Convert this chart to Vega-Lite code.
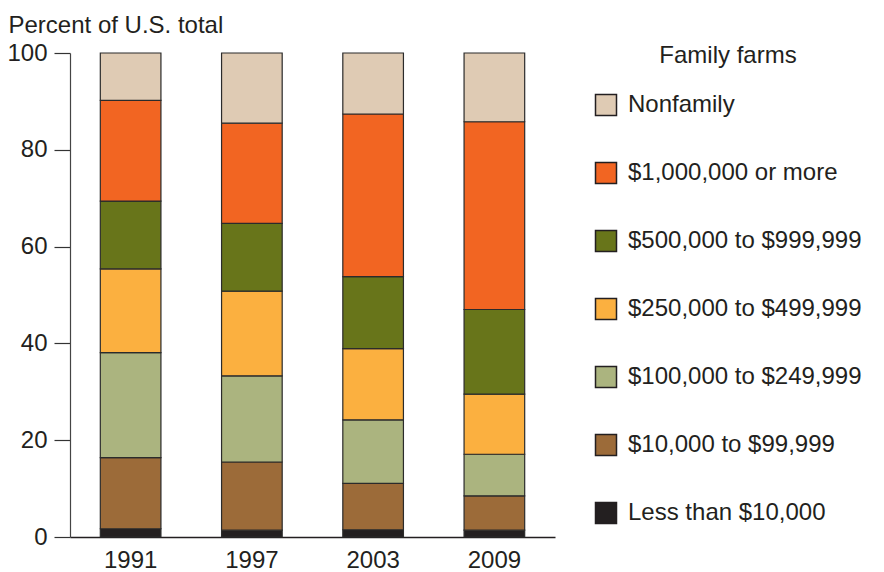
{
  "$schema": "https://vega.github.io/schema/vega-lite/v6.json",
  "width": 485,
  "height": 484,
  "autosize": "none",
  "padding": {"left": 70, "top": 53, "right": 329, "bottom": 35},
  "background": "white",
  "config": {"view": {"stroke": null}, "font": "Liberation Sans"},
  "data": {
    "values": [
      {"year": "1991", "group": "Less than $10,000", "k": 1, "pct": 1.7},
      {"year": "1991", "group": "$10,000 to $99,999", "k": 2, "pct": 14.7},
      {"year": "1991", "group": "$100,000 to $249,999", "k": 3, "pct": 21.7},
      {"year": "1991", "group": "$250,000 to $499,999", "k": 4, "pct": 17.3},
      {"year": "1991", "group": "$500,000 to $999,999", "k": 5, "pct": 14.0},
      {"year": "1991", "group": "$1,000,000 or more", "k": 6, "pct": 20.8},
      {"year": "1991", "group": "Nonfamily", "k": 7, "pct": 9.8},
      {"year": "1997", "group": "Less than $10,000", "k": 1, "pct": 1.4},
      {"year": "1997", "group": "$10,000 to $99,999", "k": 2, "pct": 14.1},
      {"year": "1997", "group": "$100,000 to $249,999", "k": 3, "pct": 17.8},
      {"year": "1997", "group": "$250,000 to $499,999", "k": 4, "pct": 17.5},
      {"year": "1997", "group": "$500,000 to $999,999", "k": 5, "pct": 14.0},
      {"year": "1997", "group": "$1,000,000 or more", "k": 6, "pct": 20.7},
      {"year": "1997", "group": "Nonfamily", "k": 7, "pct": 14.5},
      {"year": "2003", "group": "Less than $10,000", "k": 1, "pct": 1.5},
      {"year": "2003", "group": "$10,000 to $99,999", "k": 2, "pct": 9.6},
      {"year": "2003", "group": "$100,000 to $249,999", "k": 3, "pct": 13.1},
      {"year": "2003", "group": "$250,000 to $499,999", "k": 4, "pct": 14.7},
      {"year": "2003", "group": "$500,000 to $999,999", "k": 5, "pct": 14.9},
      {"year": "2003", "group": "$1,000,000 or more", "k": 6, "pct": 33.6},
      {"year": "2003", "group": "Nonfamily", "k": 7, "pct": 12.6},
      {"year": "2009", "group": "Less than $10,000", "k": 1, "pct": 1.4},
      {"year": "2009", "group": "$10,000 to $99,999", "k": 2, "pct": 7.1},
      {"year": "2009", "group": "$100,000 to $249,999", "k": 3, "pct": 8.6},
      {"year": "2009", "group": "$250,000 to $499,999", "k": 4, "pct": 12.4},
      {"year": "2009", "group": "$500,000 to $999,999", "k": 5, "pct": 17.5},
      {"year": "2009", "group": "$1,000,000 or more", "k": 6, "pct": 38.8},
      {"year": "2009", "group": "Nonfamily", "k": 7, "pct": 14.2}
    ]
  },
  "mark": {"type": "bar", "stroke": "#2b2b2b", "strokeWidth": 1.2},
  "encoding": {
    "x": {
      "field": "year",
      "type": "ordinal",
      "scale": {"paddingInner": 0.5, "paddingOuter": 0.25},
      "axis": {
        "title": null,
        "labelAngle": 0,
        "labelFontSize": 24,
        "labelColor": "#231F20",
        "labelPadding": 11,
        "ticks": false,
        "domainColor": "#231F20",
        "domainWidth": 1.5
      }
    },
    "y": {
      "field": "pct",
      "type": "quantitative",
      "stack": "zero",
      "scale": {"domain": [0, 100], "nice": false},
      "axis": {
        "values": [0, 20, 40, 60, 80, 100],
        "grid": false,
        "tickSize": 16,
        "tickColor": "#333333",
        "tickWidth": 1.2,
        "domainColor": "#444444",
        "domainWidth": 1.2,
        "labelFontSize": 24,
        "labelColor": "#231F20",
        "labelPadding": 7,
        "title": "Percent of U.S. total",
        "titleAngle": 0,
        "titleAlign": "left",
        "titleBaseline": "alphabetic",
        "titleX": -62,
        "titleY": -21,
        "titleFontSize": 24,
        "titleFontWeight": "normal",
        "titleColor": "#231F20"
      }
    },
    "color": {
      "field": "group",
      "type": "nominal",
      "scale": {
        "domain": ["Nonfamily", "$1,000,000 or more", "$500,000 to $999,999", "$250,000 to $499,999", "$100,000 to $249,999", "$10,000 to $99,999", "Less than $10,000"],
        "range": ["#DFCBB4", "#F26522", "#68751A", "#FBB040", "#ABB47F", "#9C6B39", "#231F20"]
      },
      "legend": {
        "orient": "none",
        "legendX": 524,
        "legendY": -9,
        "padding": 0,
        "title": "Family farms",
        "titleFontSize": 24,
        "titleFontWeight": "normal",
        "titleColor": "#231F20",
        "titleAnchor": "middle",
        "titlePadding": 25,
        "labelFontSize": 24,
        "labelColor": "#231F20",
        "labelOffset": 10,
        "labelLimit": 400,
        "symbolType": "square",
        "symbolSize": 441,
        "symbolStrokeColor": "#231F20",
        "symbolStrokeWidth": 1.5,
        "symbolOpacity": 1,
        "rowPadding": 40
      }
    },
    "order": {"field": "k", "type": "quantitative"}
  }
}
